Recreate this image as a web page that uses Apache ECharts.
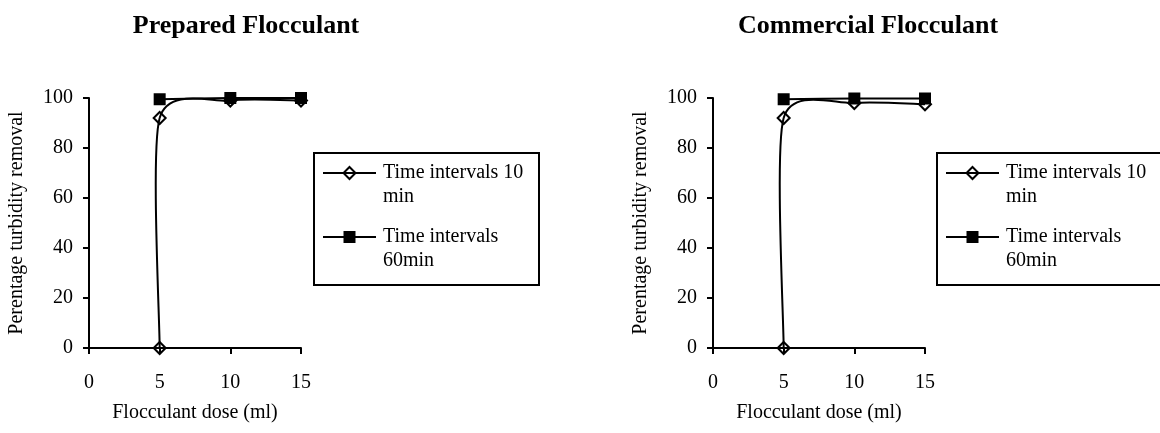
<!DOCTYPE html>
<html>
<head>
<meta charset="utf-8">
<script src="https://cdn.jsdelivr.net/npm/echarts@6/dist/echarts.min.js"></script>
<style>
html,body{margin:0;padding:0;background:#fff;}
#chart{width:1160px;height:433px;}
</style>
</head>
<body>
<div id="chart"></div>
<script>
// ---- data ----
const panelTitles = ['Prepared Flocculant', 'Commercial Flocculant'];
const xAxisTitle = 'Flocculant dose (ml)';
const yAxisTitle = 'Perentage turbidity removal';
const seriesNames = ['Time intervals 10 min', 'Time intervals 60min'];
const legendLabels = ['Time intervals 10\nmin', 'Time intervals\n60min'];
const xTicks = [0, 5, 10, 15];
const yTicks = [0, 20, 40, 60, 80, 100];

const doses10 = [5, 5, 10, 15];
const doses60 = [5, 10, 15];
const prepared10 = [0, 92, 99, 99];
const prepared60 = [99.5, 100, 100];
const commercial10 = [0, 92, 98, 97.5];
const commercial60 = [99.5, 99.8, 99.8];

// ---- build ----
const FONT = 'Liberation Serif';
const TENSION = 1 / 8;
const pairs = (xs, ys) => xs.map((x, i) => [x, ys[i]]);

const grids = [
  { left: 89, top: 98, width: 212, height: 250 },
  { left: 713, top: 98, width: 212, height: 250 }
];

function xAxisFor(i) {
  return {
    type: 'value', gridIndex: i,
    min: xTicks[0], max: xTicks[xTicks.length - 1], interval: xTicks[1] - xTicks[0],
    name: xAxisTitle, nameLocation: 'middle', nameGap: 55,
    nameTextStyle: { fontFamily: FONT, fontSize: 20, color: '#000' },
    axisLine: { show: true, onZero: false, lineStyle: { color: '#000', width: 2 } },
    axisTick: { show: true, length: 6, lineStyle: { color: '#000', width: 2 } },
    axisLabel: { fontFamily: FONT, fontSize: 20, color: '#000', margin: 25 },
    splitLine: { show: false }
  };
}
function yAxisFor(i) {
  return {
    type: 'value', gridIndex: i,
    min: yTicks[0], max: yTicks[yTicks.length - 1], interval: yTicks[1] - yTicks[0],
    name: yAxisTitle, nameLocation: 'middle', nameGap: 62,
    nameTextStyle: { fontFamily: FONT, fontSize: 20, color: '#000' },
    axisLine: { show: true, onZero: false, lineStyle: { color: '#000', width: 2 } },
    axisTick: { show: true, length: 6, lineStyle: { color: '#000', width: 2 } },
    axisLabel: { fontFamily: FONT, fontSize: 20, color: '#000', margin: 16 },
    splitLine: { show: false }
  };
}

// Smoothed (cardinal-spline style) curve, one bezier segment per data point,
// positioned through api.coord.
function smoothCurve(i, xs, ys, z) {
  return {
    type: 'custom', xAxisIndex: i, yAxisIndex: i, z: z, silent: true,
    data: pairs(xs, ys),
    renderItem: function (params, api) {
      const k = params.dataIndex;
      const n = xs.length;
      if (k >= n - 1) return null;
      const c = (j) => Math.max(0, Math.min(n - 1, j));
      const P = (j) => api.coord([xs[c(j)], ys[c(j)]]);
      const p0 = P(k - 1), p1 = P(k), p2 = P(k + 1), p3 = P(k + 2);
      return {
        type: 'bezierCurve',
        shape: {
          x1: p1[0], y1: p1[1],
          cpx1: p1[0] + (p2[0] - p0[0]) * TENSION, cpy1: p1[1] + (p2[1] - p0[1]) * TENSION,
          cpx2: p2[0] - (p3[0] - p1[0]) * TENSION, cpy2: p2[1] - (p3[1] - p1[1]) * TENSION,
          x2: p2[0], y2: p2[1]
        },
        style: { fill: null, stroke: '#000', lineWidth: 2 }
      };
    }
  };
}
function markers10(i, ys) {
  return {
    name: seriesNames[0], type: 'line', xAxisIndex: i, yAxisIndex: i,
    data: pairs(doses10, ys),
    symbol: 'diamond', symbolSize: 12,
    lineStyle: { color: '#000', width: 2, opacity: 0 },
    itemStyle: { color: 'rgba(0,0,0,0)', borderColor: '#000', borderWidth: 2 },
    z: 3
  };
}
function markers60(i, ys) {
  return {
    name: seriesNames[1], type: 'line', xAxisIndex: i, yAxisIndex: i,
    data: pairs(doses60, ys),
    symbol: 'rect', symbolSize: 12,
    lineStyle: { color: '#000', width: 2, opacity: 0 },
    itemStyle: { color: '#000', borderColor: '#000', borderWidth: 0 },
    z: 4
  };
}
function legendFor(left) {
  return {
    orient: 'vertical', left: left, top: 137, padding: 0,
    itemWidth: 53, itemHeight: 15, itemGap: -8,
    selectedMode: false,
    data: seriesNames,
    lineStyle: { opacity: 1, width: 2, color: '#000' },
    formatter: (n) => '\n' + legendLabels[seriesNames.indexOf(n)],
    textStyle: { fontFamily: FONT, fontSize: 20, color: '#000', lineHeight: 24, padding: [0, 0, 0, 2] }
  };
}

const option = {
  animation: false,
  backgroundColor: '#fff',
  title: [
    { text: panelTitles[0], left: 241, top: 8, textAlign: 'center',
      textStyle: { fontFamily: FONT, fontSize: 26, fontWeight: 'bold', color: '#000' } },
    { text: panelTitles[1], left: 863, top: 8, textAlign: 'center',
      textStyle: { fontFamily: FONT, fontSize: 26, fontWeight: 'bold', color: '#000' } }
  ],
  grid: grids,
  xAxis: [xAxisFor(0), xAxisFor(1)],
  yAxis: [yAxisFor(0), yAxisFor(1)],
  legend: [legendFor(322), legendFor(945)],
  series: [
    smoothCurve(0, doses10, prepared10, 2), smoothCurve(0, doses60, prepared60, 2),
    smoothCurve(1, doses10, commercial10, 2), smoothCurve(1, doses60, commercial60, 2),
    markers10(0, prepared10), markers60(0, prepared60),
    markers10(1, commercial10), markers60(1, commercial60)
  ],
  graphic: [
    { type: 'rect', shape: { x: 314, y: 153, width: 225, height: 132 },
      style: { fill: 'none', stroke: '#000', lineWidth: 2 }, z: 100 },
    { type: 'rect', shape: { x: 937, y: 153, width: 225, height: 132 },
      style: { fill: 'none', stroke: '#000', lineWidth: 2 }, z: 100 }
  ]
};

const chart = echarts.init(document.getElementById('chart'), null, { renderer: 'canvas' });
chart.setOption(option);
</script>
</body>
</html>
